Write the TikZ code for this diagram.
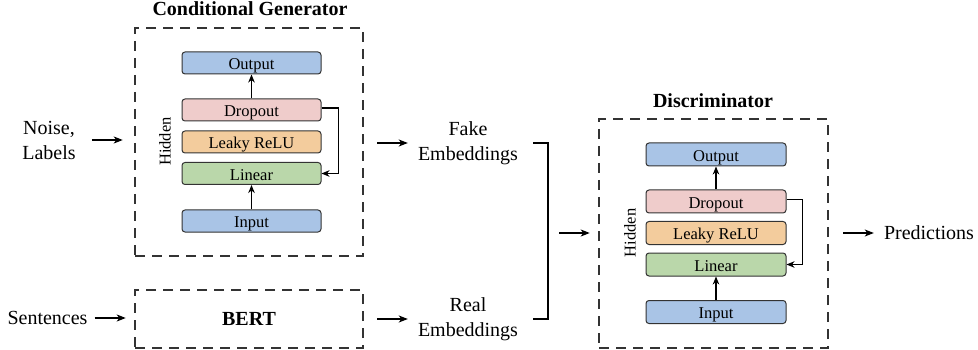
\documentclass[tikz,border=0pt]{standalone}
\usepackage{fontspec}
\setmainfont{Liberation Serif}
\usetikzlibrary{arrows.meta}
\definecolor{cblue}{HTML}{A9C4E6}
\definecolor{cpink}{HTML}{EFCCCB}
\definecolor{corange}{HTML}{F3CC9D}
\definecolor{cgreen}{HTML}{BAD7AA}
\definecolor{edge}{HTML}{333333}
\begin{document}
\begin{tikzpicture}[x=1pt,y=-1pt,
 layer/.style={draw=edge,line width=1pt,rounded corners=3pt,minimum width=139pt,minimum height=22pt,inner sep=0pt,text height=14pt,text depth=0.5pt,font=\fontsize{16.5}{18}\selectfont},
 group/.style={draw=edge,line width=2.5pt,dash pattern=on 10pt off 7pt,inner sep=0pt},
 lbl/.style={inner sep=0pt,align=center,font=\fontsize{20}{25}\selectfont},
 ttl/.style={inner sep=0pt,font=\fontsize{20}{24}\selectfont\bfseries},
 hid/.style={inner sep=0pt,rotate=90,font=\fontsize{16.5}{18}\selectfont},
 arr/.style={-{Stealth[length=9pt,width=7pt,inset=2.5pt]},line width=1.3pt},
 thinarr/.style={-{Stealth[length=8pt,width=6.5pt,inset=2.5pt]},line width=1.1pt},
 loop/.style={line width=1.3pt}
]
\useasboundingbox (0,0) rectangle (978,350);

% ---------- Generator ----------
\node[group,minimum width=228pt,minimum height=228pt] (gen) at (249,142) {};
\node[ttl] (gent) at (250,9) {Conditional Generator};
\node[layer,fill=cblue] (gout) at (251.5,63) {Output};
\node[layer,fill=cpink] (gdrop) at (251.5,110) {Dropout};
\node[layer,fill=corange] (grelu) at (251.5,142) {Leaky ReLU};
\node[layer,fill=cgreen] (glin) at (251.5,173.5) {Linear};
\node[layer,fill=cblue] (ginp) at (251.5,221) {Input};
\node[hid] (ghid) at (165,141.5) {Hidden};
\draw[thinarr] (ginp) -- (glin);
\draw[thinarr] (gdrop) -- (gout);
\draw[thinarr] ([yshift=2pt]gdrop.east) -- ++(17,0) |- (glin.east);

% ---------- BERT ----------
\node[group,minimum width=228pt,minimum height=58pt,font=\fontsize{20}{24}\selectfont\bfseries] (bert) at (249,319) {BERT};

% ---------- Inputs ----------
\node[lbl] (noise) at (49,140) {Noise,\\Labels};
\node[lbl] (sent) at (47.5,318) {Sentences};
\draw[arr,shorten <=16pt,shorten >=11pt] (noise.east) -- (noise.east -| gen.west);
\draw[arr,shorten <=7pt,shorten >=8pt] (sent.east) -- (sent.east -| bert.west);

% ---------- Embeddings ----------
\node[lbl] (fake) at (468,143) {Fake\\Embeddings};
\node[lbl] (real) at (468,319) {Real\\Embeddings};
\draw[arr,shorten <=13pt,shorten >=10pt] (gen.east |- fake.west) -- (fake.west);
\draw[arr,shorten <=13pt,shorten >=10pt] (bert.east) -- (real.west);
\coordinate (br) at (548,233);
\draw[loop] ([xshift=15pt]fake.east) -| (br) |- ([xshift=15pt]real.east);

% ---------- Discriminator ----------
\node[group,minimum width=229pt,minimum height=229pt] (disc) at (713.5,233.5) {};
\node[ttl] (disct) at (713,101) {Discriminator};
\node[layer,fill=cblue,minimum width=140pt,minimum height=23pt] (dout) at (716,154.5) {Output};
\node[layer,fill=cpink,minimum width=140pt,minimum height=23pt] (ddrop) at (716,201.5) {Dropout};
\node[layer,fill=corange,minimum width=140pt,minimum height=23pt] (drelu) at (716,233) {Leaky ReLU};
\node[layer,fill=cgreen,minimum width=140pt,minimum height=23pt] (dlin) at (716,264.5) {Linear};
\node[layer,fill=cblue,minimum width=140pt,minimum height=23pt] (dinp) at (716,312) {Input};
\node[hid] (dhid) at (630,233) {Hidden};
\draw[thinarr] (dinp) -- (dlin);
\draw[thinarr] (ddrop) -- (dout);
\draw[thinarr] ([yshift=2pt]ddrop.east) -- ++(16,0) |- (dlin.east);

\draw[arr,shorten <=11pt,shorten >=8pt] (br) -- (br -| disc.west);

% ---------- Output ----------
\node[lbl] (pred) at (929,233) {Predictions};
\draw[arr,shorten <=14pt,shorten >=10pt] (disc.east |- pred.west) -- (pred.west);
\end{tikzpicture}
\end{document}
